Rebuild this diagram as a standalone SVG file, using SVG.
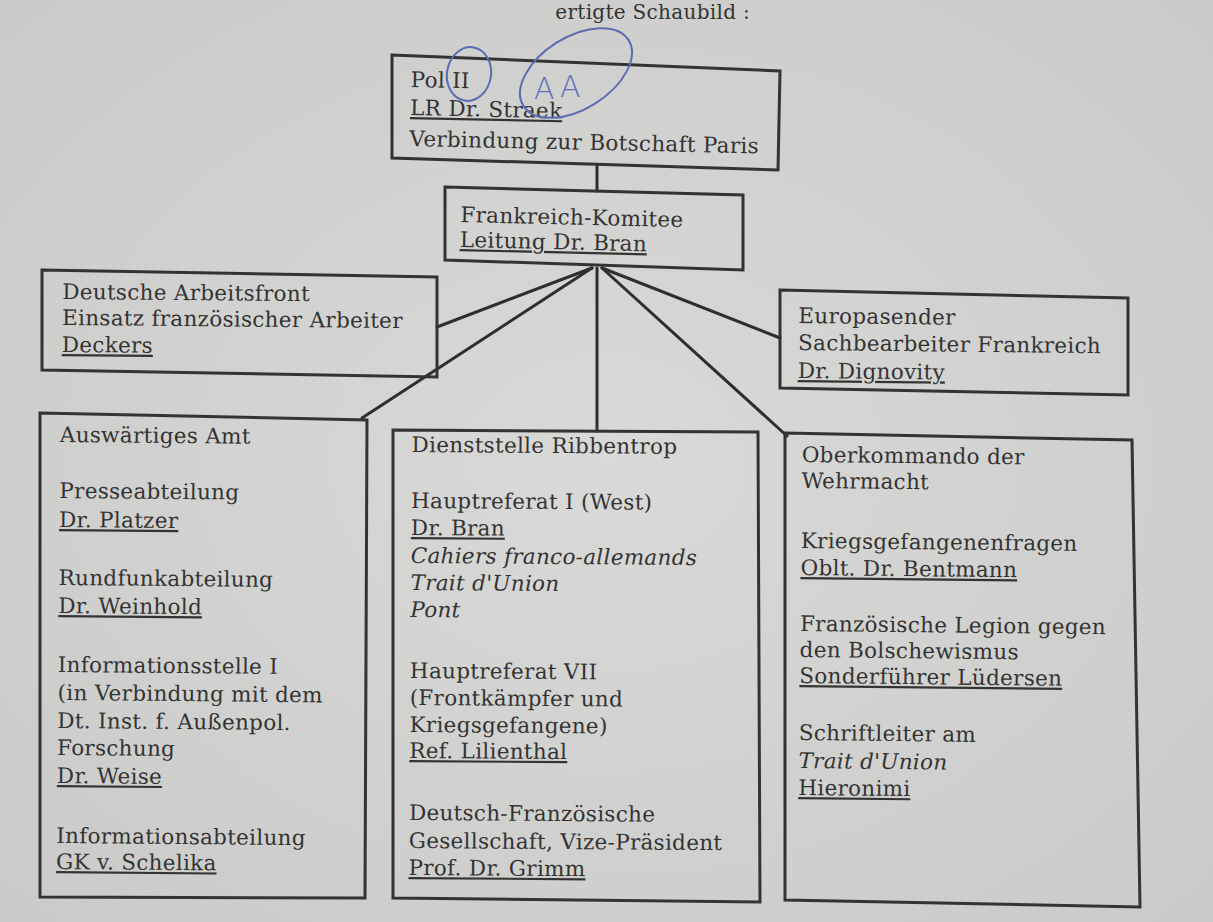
<svg xmlns="http://www.w3.org/2000/svg" width="1213" height="922" viewBox="0 0 1213 922">
<defs>
<style>
.bg{fill:#d2d2d0}
.box{fill:none;stroke:#333333;stroke-width:3;stroke-linejoin:miter}
.t{font-family:"DejaVu Serif","Liberation Serif",serif;font-size:21.5px;letter-spacing:0.3px;fill:#333333}
.i{font-style:italic}
.u{text-decoration:underline}
.con line{stroke:#2e2e2e;stroke-width:3;stroke-linecap:round}
.pen{fill:none;stroke:#5b6cb0;stroke-width:2}
.pent{font-family:"DejaVu Sans",sans-serif;font-size:30px;fill:#6272b8;font-weight:300}
</style>
<radialGradient id="paper" cx="0.5" cy="0.5" r="0.75">
<stop offset="0" stop-color="#d9d9d7"/>
<stop offset="1" stop-color="#c9c9c7"/>
</radialGradient>
</defs>
<rect x="0" y="0" width="1213" height="922" fill="url(#paper)"/>
<text class="t" x="750" y="19" text-anchor="end" fill="#444" style="font-size:20px">ertigte Schaubild :</text>

<g id="connectors" class="con">
<line x1="597" y1="166" x2="597" y2="191"/>
<line x1="592" y1="268" x2="437" y2="327"/>
<line x1="592" y1="268" x2="362" y2="418"/>
<line x1="597" y1="268" x2="597" y2="431"/>
<line x1="602" y1="268" x2="780" y2="338"/>
<line x1="602" y1="268" x2="787" y2="436"/>
</g>

<g id="node-pol2">
<polygon class="box" points="392,55 780,71 778,170 392,158"/>
<g transform="rotate(1.2 410 115)">
<text class="t" x="410" y="87">Pol II</text>
<text class="t u" x="410" y="115">LR Dr. Straek</text>
<text class="t" x="410" y="146">Verbindung zur Botschaft Paris</text>
</g>
<ellipse class="pen" cx="469" cy="74" rx="22" ry="27" transform="rotate(10 469 74)"/>
<ellipse class="pen" cx="576" cy="73" rx="62" ry="36" transform="rotate(-32 576 73)"/>
<text class="pent" x="534" y="99">A</text>
<text class="pent" x="560" y="97">A</text>
</g>

<g id="node-frankreich">
<polygon class="box" points="445,187 743,195 743,270 445,260"/>
<g transform="rotate(1.3 460 235)">
<text class="t" x="460" y="222">Frankreich-Komitee</text>
<text class="t u" x="460" y="247">Leitung Dr. Bran</text>
</g>
</g>

<g id="node-daf">
<polygon class="box" points="42,270 437,277 437,377 42,370"/>
<g transform="rotate(0.5 62 325)">
<text class="t" x="62" y="299">Deutsche Arbeitsfront</text>
<text class="t" x="62" y="325">Einsatz französischer Arbeiter</text>
<text class="t u" x="62" y="352">Deckers</text>
</g>
</g>

<g id="node-europasender">
<polygon class="box" points="780,290 1128,298 1128,395 780,388"/>
<g transform="rotate(0.6 798 350)">
<text class="t" x="798" y="323">Europasender</text>
<text class="t" x="798" y="350">Sachbearbeiter Frankreich</text>
<text class="t u" x="798" y="378">Dr. Dignovity</text>
</g>
</g>

<g id="node-aa">
<polygon class="box" points="40,413 367,420 365,898 40,897"/>
<g transform="rotate(0.5 58 650)">
<text class="t" x="58" y="442">Auswärtiges Amt</text>
<text class="t" x="58" y="498">Presseabteilung</text>
<text class="t u" x="58" y="527">Dr. Platzer</text>
<text class="t" x="58" y="585">Rundfunkabteilung</text>
<text class="t u" x="58" y="613">Dr. Weinhold</text>
<text class="t" x="58" y="672">Informationsstelle I</text>
<text class="t" x="58" y="700">(in Verbindung mit dem</text>
<text class="t" x="58" y="728">Dt. Inst. f. Außenpol.</text>
<text class="t" x="58" y="755">Forschung</text>
<text class="t u" x="58" y="783">Dr. Weise</text>
<text class="t" x="58" y="843">Informationsabteilung</text>
<text class="t u" x="58" y="869">GK v. Schelika</text>
</g>
</g>

<g id="node-dienststelle">
<polygon class="box" points="393,430 758,432 760,902 393,898"/>
<g transform="rotate(0.4 410 660)">
<text class="t" x="410" y="452">Dienststelle Ribbentrop</text>
<text class="t" x="410" y="508">Hauptreferat I (West)</text>
<text class="t u" x="410" y="535">Dr. Bran</text>
<text class="t i" x="410" y="563">Cahiers franco-allemands</text>
<text class="t i" x="410" y="590">Trait d'Union</text>
<text class="t i" x="410" y="617">Pont</text>
<text class="t" x="410" y="678">Hauptreferat VII</text>
<text class="t" x="410" y="705">(Frontkämpfer und</text>
<text class="t" x="410" y="732">Kriegsgefangene)</text>
<text class="t u" x="410" y="758">Ref. Lilienthal</text>
<text class="t" x="410" y="820">Deutsch-Französische</text>
<text class="t" x="410" y="848">Gesellschaft, Vize-Präsident</text>
<text class="t u" x="410" y="875">Prof. Dr. Grimm</text>
</g>
</g>

<g id="node-okw">
<polygon class="box" points="785,433 1132,440 1140,907 785,900"/>
<g transform="rotate(0.6 800 620)">
<text class="t" x="800" y="462">Oberkommando der</text>
<text class="t" x="800" y="488">Wehrmacht</text>
<text class="t" x="800" y="548">Kriegsgefangenenfragen</text>
<text class="t u" x="800" y="575">Oblt. Dr. Bentmann</text>
<text class="t" x="800" y="631">Französische Legion gegen</text>
<text class="t" x="800" y="657">den Bolschewismus</text>
<text class="t u" x="800" y="683">Sonderführer Lüdersen</text>
<text class="t" x="800" y="740">Schriftleiter am</text>
<text class="t i" x="800" y="768">Trait d'Union</text>
<text class="t u" x="800" y="795">Hieronimi</text>
</g>
</g>
</svg>
